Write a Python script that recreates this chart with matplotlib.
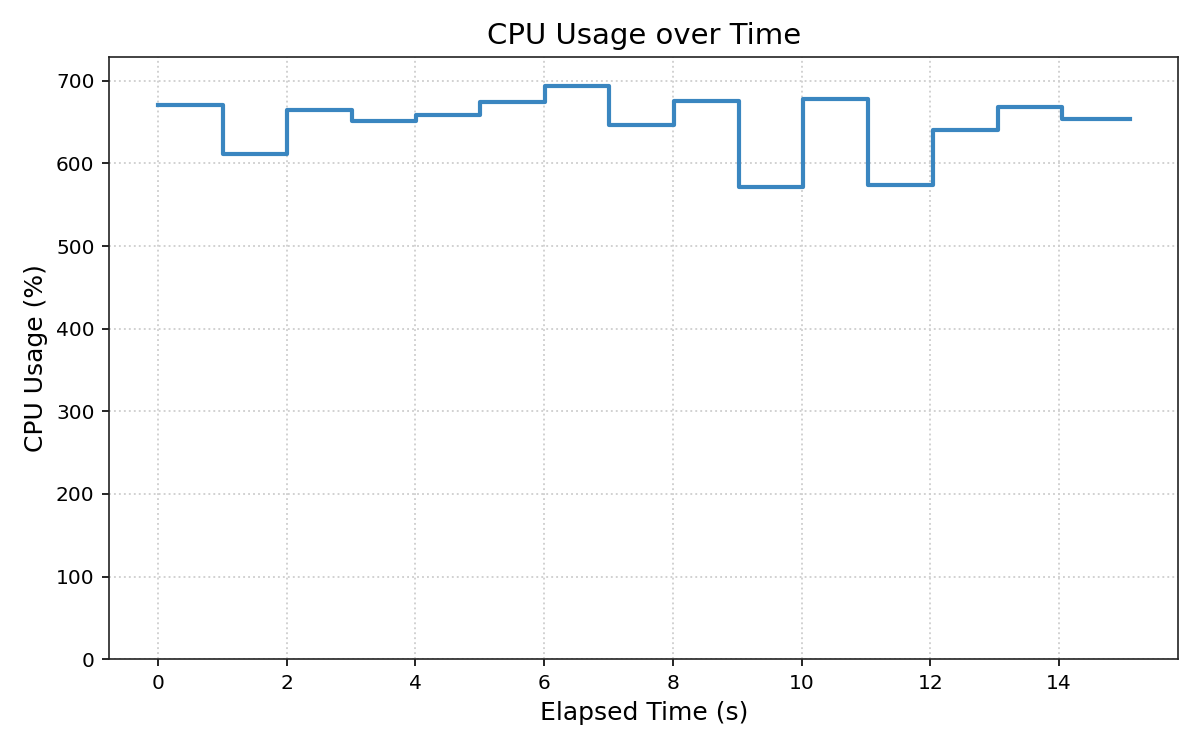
import matplotlib
matplotlib.use("Agg")
import matplotlib.pyplot as plt

# Sample times (s) and CPU usage (%) readings
elapsed_time = [0.0, 1.015, 2.01, 3.015, 4.005, 5.01, 6.01, 7.01, 8.02,
                9.03, 10.03, 11.04, 12.04, 13.05, 14.05, 15.10]
cpu_usage = [671, 611, 664, 651, 658, 674, 694, 646, 676,
             571, 678, 574, 640, 668, 654, 654]

fig, ax = plt.subplots(figsize=(8, 5), dpi=150)
ax.step(elapsed_time, cpu_usage, where="post", color="#3a86c0", linewidth=2)

ax.set_ylim(0, max(cpu_usage) * 1.05)
ax.set_title("CPU Usage over Time", fontsize=14)
ax.set_xlabel("Elapsed Time (s)", fontsize=12)
ax.set_ylabel("CPU Usage (%)", fontsize=12)
ax.tick_params(labelsize=9.7)
ax.grid(True, linestyle=":", color="#d0d0d0", linewidth=0.9)
for s in ax.spines.values():
    s.set_color("#222222")

fig.subplots_adjust(left=0.091, right=0.982, top=0.924, bottom=0.121)
fig.savefig("out.png", dpi=150)
